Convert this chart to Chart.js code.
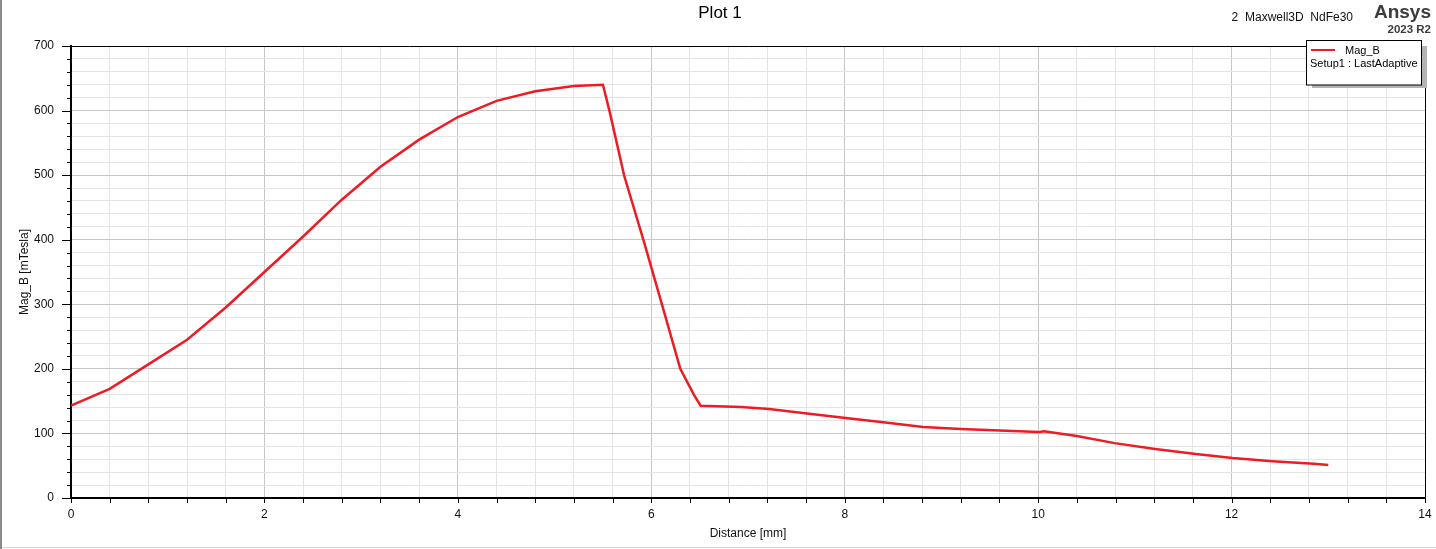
<!DOCTYPE html>
<html>
<head>
<meta charset="utf-8">
<title>Plot 1</title>
<script src="https://cdn.jsdelivr.net/npm/chart.js@4.4.1/dist/chart.umd.min.js"></script>
<style>
  html, body { margin: 0; padding: 0; background: #fff; }
  #wrap { width: 1436px; height: 549px; position: relative; }
</style>
</head>
<body>
<div id="wrap"><canvas id="plot"></canvas></div>
<script>
// Distance [mm] and Mag_B [mTesla]
const distance = [0, 0.4, 0.8, 1.2, 1.6, 2.0, 2.4, 2.8, 3.2, 3.6, 4.0, 4.4, 4.8, 5.2, 5.5,
  5.57, 5.72, 5.92, 6.11, 6.3, 6.44, 6.51,
  6.93, 7.22, 7.61, 8.01, 8.42, 8.81, 9.2, 9.67, 10.01, 10.06, 10.4, 10.79, 11.21, 11.63, 12.01, 12.42, 12.85, 13.0];
const magB = [143, 169, 207, 245, 295, 350, 405, 462, 513, 555, 590, 615, 630, 638, 640,
  598, 499, 399, 300, 200, 160, 143,
  141, 138, 131, 124, 117, 110, 107, 104, 102.4, 103.5, 96, 85, 76, 68, 62, 57, 53, 51];

const xMax = 14, xStep = 0.4, xMajor = 2;
const yMax = 700, yStep = 20, yMajor = 100;

const FONT = 'Liberation Sans, Arial, sans-serif';
const isMajor = (v, m) => Math.abs(v / m - Math.round(v / m)) < 1e-6;

// ticks, frame, titles and legend box
const decor = {
    id: 'decor',
    afterDraw(chart) {
        const c = chart.ctx;
        const a = chart.chartArea;
        const xs = chart.scales.x, ys = chart.scales.y;
        c.save();

        // plot frame top/right
        c.strokeStyle = '#000';
        c.lineWidth = 1;
        c.beginPath();
        c.moveTo(a.left, a.top + 0.5); c.lineTo(a.right + 0.5, a.top + 0.5); c.lineTo(a.right + 0.5, a.bottom);
        c.stroke();

        // tick marks
        c.beginPath();
        ys.ticks.forEach(t => {
            const py = Math.round(ys.getPixelForValue(t.value)) + 0.5;
            const len = isMajor(t.value, yMajor) ? 9 : 4;
            c.moveTo(a.left - len, py); c.lineTo(a.left, py);
        });
        xs.ticks.forEach(t => {
            const px = Math.round(xs.getPixelForValue(t.value)) + 0.5;
            c.moveTo(px, a.bottom); c.lineTo(px, a.bottom + 5);
        });
        c.stroke();

        // titles
        c.fillStyle = '#000';
        c.font = '17px ' + FONT;
        c.textAlign = 'center';
        c.textBaseline = 'alphabetic';
        c.fillText('Plot 1', 720, 18);

        c.font = '12px ' + FONT;
        c.fillStyle = '#111';
        c.fillText('Distance [mm]', (a.left + a.right) / 2, 537);
        c.save();
        c.translate(28, (a.top + a.bottom) / 2);
        c.rotate(-Math.PI / 2);
        c.fillText('Mag_B [mTesla]', 0, 0);
        c.restore();

        c.textAlign = 'right';
        c.fillText('2  Maxwell3D  NdFe30', 1353, 21);
        c.fillStyle = '#3c3c3c';
        c.font = 'bold 19px ' + FONT;
        c.fillText('Ansys', 1431, 18);
        c.font = 'bold 11.5px ' + FONT;
        c.fillText('2023 R2', 1431, 33);

        // legend box with shadow
        c.fillStyle = '#b4b4b4';
        c.fillRect(1312, 46, 115, 42);
        c.fillStyle = '#fff';
        c.fillRect(1306.5, 40.5, 115, 44.5);
        c.strokeStyle = '#000';
        c.lineWidth = 1;
        c.strokeRect(1306.5, 40.5, 115, 44.5);
        c.strokeStyle = '#ed1c24';
        c.lineWidth = 2;
        c.beginPath(); c.moveTo(1311, 50); c.lineTo(1335, 50); c.stroke();
        c.fillStyle = '#000';
        c.font = '11px ' + FONT;
        c.textAlign = 'left';
        c.fillText('Mag_B', 1345, 54);
        c.fillText('Setup1 : LastAdaptive', 1310, 67);

        // window edges
        c.fillStyle = '#8a8a8a';
        c.fillRect(0, 0, 2, 549);
        c.fillStyle = '#d4d4d4';
        c.fillRect(2, 547, 1434, 1);
        c.restore();
    }
};

const ctx = document.getElementById('plot').getContext('2d');
const chart = new Chart(ctx, {
    type: 'line',
    data: {
        datasets: [{
            label: 'Mag_B',
            data: distance.map((d, i) => ({ x: d, y: magB[i] })),
            borderColor: '#ed1c24',
            borderWidth: 2.5,
            pointRadius: 0,
            tension: 0,
            fill: false
        }]
    },
    options: {
        responsive: true,
        maintainAspectRatio: false,
        animation: false,
        layout: { padding: { top: 46, right: 11, left: 0, bottom: 0 } },
        plugins: {
            legend: { display: false },
            tooltip: { enabled: false }
        },
        scales: {
            x: {
                type: 'linear',
                min: 0, max: xMax,
                afterFit: s => { s.height = 51; s.paddingLeft = 0; s.paddingRight = 0; },
                border: { display: true, color: '#000', width: 2 },
                grid: {
                    drawTicks: false,
                    color: c => isMajor(c.tick.value, xMajor) ? '#c6c6c6' : '#e4e4e4',
                    lineWidth: 1
                },
                ticks: {
                    stepSize: xStep,
                    autoSkip: false,
                    maxRotation: 0,
                    padding: 9,
                    color: '#111',
                    font: { family: FONT, size: 12 },
                    callback: v => isMajor(v, xMajor) ? String(Math.round(v)) : ''
                }
            },
            y: {
                min: 0, max: yMax,
                afterFit: s => { s.width = 71; s.paddingTop = 0; s.paddingBottom = 0; },
                border: { display: true, color: '#000', width: 2 },
                grid: {
                    drawTicks: false,
                    color: c => isMajor(c.tick.value, yMajor) ? '#c6c6c6' : '#e4e4e4',
                    lineWidth: 1
                },
                ticks: {
                    stepSize: yStep,
                    autoSkip: false,
                    padding: 17,
                    color: '#111',
                    font: { family: FONT, size: 12 },
                    callback: v => isMajor(v, yMajor) ? String(Math.round(v)) : ''
                }
            }
        }
    },
    plugins: [decor]
});
</script>
</body>
</html>
